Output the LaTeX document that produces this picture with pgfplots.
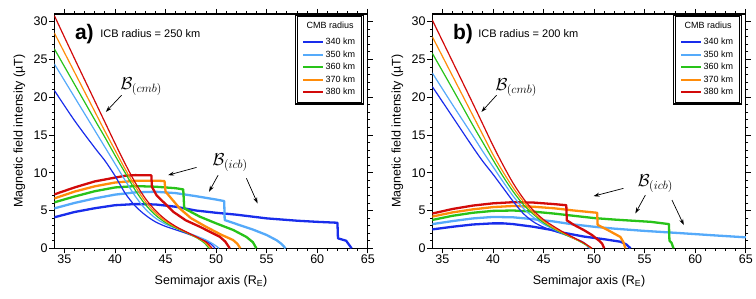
\documentclass[border=0pt]{standalone}
\usepackage{fontspec}
\setmainfont{Liberation Sans}
\usepackage{pgfplots}
\pgfplotsset{compat=1.18}
\usetikzlibrary{arrows.meta}

\definecolor{cblue}{RGB}{25,45,235}
\definecolor{clblue}{RGB}{85,170,250}
\definecolor{cgreen}{RGB}{40,195,25}
\definecolor{corange}{RGB}{255,140,10}
\definecolor{cred}{RGB}{210,10,10}

\tikzset{
  icbline/.style={line width=2.3pt, line join=round},
  cmbline/.style={line width=1.2pt, smooth},
  lab/.style={font=\fontsize{17.28}{20}\selectfont},
  arr/.style={-{Stealth[length=6pt,width=4pt]}, line width=0.7pt, black},
}

\pgfplotsset{
  myaxis/.style={
    scale only axis, width=313.5pt, height=234.3pt,
    xmin=34, xmax=65, ymin=0, ymax=31,
    xtick={35,40,...,65}, ytick={0,5,...,30},
    minor x tick num=4, minor y tick num=4,
    tick align=outside,
    major tick length=5pt, minor tick length=2.5pt,
    axis line style={line width=1.3pt},
    every tick/.style={black, line width=0.8pt},
    tick label style={font=\fontsize{12.5}{14}\selectfont, inner sep=1.5pt},
    /pgf/number format/assume math mode=true,
    xlabel={Semimajor axis (R\textsubscript{E})},
    ylabel={Magnetic field intensity (µT)},
    label style={font=\fontsize{12.5}{14}\selectfont},
    xlabel style={at={(axis description cs:0.5,-0.142)}, anchor=center},
    ylabel style={at={(axis description cs:-0.111,0.5)}, anchor=center},
    legend style={at={(0.986,0.996)}, anchor=north east, draw=none,
      fill=white, font=\fontsize{9}{10}\selectfont, inner xsep=6.5pt, inner ysep=5pt,
      row sep=0pt, nodes={inner sep=1.5pt, text height=7.3pt, text depth=2.3pt}},
    legend cell align=left,
    legend image code/.code={\draw[#1, line width=2pt] (0pt,0pt) -- (20pt,0pt);},
  }
}

\begin{document}
\begin{tikzpicture}
\useasboundingbox (-54.3pt,-50.7pt) rectangle (701.7pt,248.3pt);

% ---------------- panel a ----------------
\begin{axis}[myaxis, at={(0pt,0pt)}, anchor=south west, legend style={name=lega}]
\addlegendimage{empty legend}\addlegendentry[text depth=5.3pt]{\hspace*{-19pt}CMB radius}
\addlegendimage{cblue}\addlegendentry{340 km}
\addlegendimage{clblue}\addlegendentry{350 km}
\addlegendimage{cgreen}\addlegendentry{360 km}
\addlegendimage{corange}\addlegendentry{370 km}
\addlegendimage{cred}\addlegendentry{380 km}

% B_icb (thick)
\addplot[cblue, icbline, forget plot] coordinates {(34,4.1)(36,4.8)(38,5.3)(40,5.7)(42,5.85)(44,5.8)(46,5.5)(48,5.0)(50,4.7)(52,4.45)(55,3.96)(58,3.65)(60,3.5)(62,3.38)(62.05,1.32)(62.86,1.0)(63.4,0)};
\addplot[clblue, icbline, forget plot] coordinates {(34,5.28)(36,6.0)(38,6.6)(40,7.1)(42,7.4)(44,7.48)(46,7.3)(48,6.9)(50,6.45)(50.8,6.25)(50.85,3.74)(52.3,3.08)(53.6,2.5)(55,1.76)(56,1.05)(56.45,0.6)(56.87,0)};
\addplot[cgreen, icbline, forget plot] coordinates {(34,6.08)(36,6.85)(38,7.55)(40,8.05)(42,8.23)(44,8.15)(46,7.95)(46.75,7.79)(46.85,5.28)(48.4,4.18)(50,3.3)(51.7,2.42)(53,1.5)(53.64,0.8)(53.98,0)};
\addplot[corange, icbline, forget plot] coordinates {(34,6.6)(36,7.5)(38,8.2)(40,8.7)(42,8.93)(44,8.95)(44.9,8.9)(45.0,7.5)(46.4,5.28)(47.5,4.0)(49.0,2.85)(50.5,1.8)(51.67,1.1)(52.1,0.6)(52.4,0)};
\addplot[cred, icbline, forget plot] coordinates {(34,7.13)(36,8.05)(38,8.85)(40,9.35)(41,9.6)(42,9.68)(43.6,9.65)(43.65,8.14)(44.1,7.04)(45.75,4.84)(47,3.7)(48.4,2.85)(49.5,2.1)(50.36,1.53)(50.9,0.9)(51.35,0)};

% B_cmb (thin)
\addplot[cblue, cmbline, forget plot] coordinates {(34,20.9)(36,16.9)(38,13.3)(39,11.6)(40,9.6)(41,7.3)(42,5.6)(43,4.4)(44,3.5)(45,2.9)(46,2.45)(47,2.0)(48,1.5)(49,0.95)(49.5,0.55)(49.9,0)};
\addplot[clblue, cmbline, forget plot] coordinates {(34,24.4)(36,20.0)(38,15.6)(39,13.4)(40,11.2)(41,9.0)(42,6.9)(43,5.2)(44,4.0)(45,3.2)(46,2.65)(47,2.15)(48,1.65)(49,1.1)(49.8,0.5)(50.3,0)};
\addplot[cgreen, cmbline, forget plot] coordinates {(34,26.4)(36,21.7)(38,17.0)(39,14.7)(40,12.3)(41,10.0)(42,7.7)(43,5.8)(44,4.4)(45,3.4)(46,2.7)(47,2.1)(48,1.45)(48.8,0.75)(49.3,0)};
\addplot[corange, cmbline, forget plot] coordinates {(34,28.5)(36,23.3)(38,18.1)(39,15.5)(40,13.0)(41,10.5)(42,8.2)(43,6.2)(44,4.7)(45,3.6)(46,2.8)(47,2.15)(48,1.5)(48.9,0.8)(49.45,0)};
\addplot[cred, cmbline, forget plot] coordinates {(34,30.8)(36,25.1)(38,19.5)(39,16.7)(40,13.9)(41,11.2)(42,8.7)(43,6.6)(44,5.0)(45,3.8)(46,2.9)(47,2.2)(48,1.55)(49,0.85)(49.6,0)};

\node[anchor=base west, font=\fontsize{21}{24}\bfseries] at (axis cs:35.7,27.6) {a)};
\node[anchor=base west, font=\fontsize{11}{13}\selectfont] at (axis cs:38.2,27.9) {ICB radius = 250 km};
\node[lab] at (axis cs:42.6,21.4) {$\mathcal{B}_{(cmb)}$};
\draw[arr] (axis cs:40.65,20.25) -- (axis cs:39.1,18.05);
\node[lab] at (axis cs:51.4,11.3) {$\mathcal{B}_{(icb)}$};
\draw[arr] (axis cs:48.06,10.7) -- (axis cs:45.25,9.68);
\draw[arr] (axis cs:50.2,9.68) -- (axis cs:49.3,7.48);
\draw[arr] (axis cs:53.0,9.25) -- (axis cs:54.1,5.94);
\end{axis}
\draw[line width=1.8pt] (lega.south west) rectangle (lega.north east);
\draw[line width=0.5pt] ([shift={(1.8pt,1.8pt)}]lega.south west) rectangle ([shift={(-1.8pt,-1.8pt)}]lega.north east);

% ---------------- panel b ----------------
\begin{axis}[myaxis, at={(378pt,0pt)}, anchor=south west, legend style={name=legb}]
\addlegendimage{empty legend}\addlegendentry[text depth=5.3pt]{\hspace*{-19pt}CMB radius}
\addlegendimage{cblue}\addlegendentry{340 km}
\addlegendimage{clblue}\addlegendentry{350 km}
\addlegendimage{cgreen}\addlegendentry{360 km}
\addlegendimage{corange}\addlegendentry{370 km}
\addlegendimage{cred}\addlegendentry{380 km}

% B_icb (thick)
\addplot[cblue, icbline, forget plot] coordinates {(34,2.5)(36,2.85)(38,3.15)(40,3.3)(41,3.3)(42,3.2)(44,2.85)(45.7,2.45)(47,2.05)(49,1.55)(51,1.2)(52.6,0.87)(53.2,0.5)(53.6,0)};
\addplot[clblue, icbline, forget plot] coordinates {(34,3.2)(36,3.6)(38,3.95)(40,4.15)(42,4.1)(44,3.85)(46,3.55)(48,3.15)(50,2.85)(52,2.6)(55,2.3)(58.6,2.0)(62,1.7)(65,1.45)};
\addplot[cgreen, icbline, forget plot] coordinates {(34,3.75)(36,4.3)(38,4.7)(40,4.95)(42,5.0)(44,4.85)(46,4.6)(48.65,4.2)(50,4.0)(52,3.8)(55.6,3.5)(57.4,3.2)(57.45,1.0)(57.65,0.75)(57.85,0)};
\addplot[corange, icbline, forget plot] coordinates {(34,4.2)(36,4.75)(38,5.15)(40,5.45)(42,5.6)(44,5.5)(46,5.3)(48,5.0)(50.3,4.7)(50.35,3.1)(51.3,2.45)(52.6,1.5)(52.9,0.8)(53.1,0)};
\addplot[cred, icbline, forget plot] coordinates {(34,4.6)(36,5.2)(38,5.65)(40,5.95)(42,6.1)(44,6.05)(46,5.85)(47.25,5.7)(47.3,3.7)(48,3.1)(49,2.4)(49.8,1.75)(50.5,1.0)(50.8,0.6)(51.0,0)};

% B_cmb (thin)
\addplot[cblue, cmbline, forget plot] coordinates {(34,21.4)(36,17.4)(38,13.4)(39,11.5)(40,9.8)(41,8.0)(42,6.2)(43,4.6)(44,3.5)(45,2.8)(46,2.3)(47,1.85)(48,1.35)(49,0.75)(49.5,0)};
\addplot[clblue, cmbline, forget plot] coordinates {(34,23.2)(36,19.0)(38,14.9)(39,12.8)(40,10.8)(41,8.8)(42,6.9)(43,5.3)(44,4.1)(45,3.2)(46,2.5)(47,1.9)(48,1.3)(49,0.7)(49.6,0)};
\addplot[cgreen, cmbline, forget plot] coordinates {(34,25.8)(36,21.1)(38,16.3)(39,14.0)(40,11.7)(41,9.5)(42,7.5)(43,5.8)(44,4.5)(45,3.4)(46,2.6)(47,1.9)(48,1.3)(49,0.6)(49.7,0)};
\addplot[corange, cmbline, forget plot] coordinates {(34,28.0)(36,22.8)(38,17.6)(39,15.0)(40,12.4)(41,10.1)(42,8.0)(43,6.2)(44,4.7)(45,3.6)(46,2.7)(47,2.0)(48,1.3)(49,0.7)(49.7,0)};
\addplot[cred, cmbline, forget plot] coordinates {(34,30.2)(36,24.7)(38,19.2)(39,16.4)(40,13.6)(41,11.0)(42,8.6)(43,6.6)(44,5.0)(45,3.8)(46,2.9)(47,2.1)(48,1.4)(49,0.7)(49.8,0)};

\node[anchor=base west, font=\fontsize{21}{24}\bfseries] at (axis cs:35.7,27.6) {b)};
\node[anchor=base west, font=\fontsize{11}{13}\selectfont] at (axis cs:38.2,27.9) {ICB radius = 200 km};
\node[lab] at (axis cs:42.3,21.3) {$\mathcal{B}_{(cmb)}$};
\draw[arr] (axis cs:40.35,20.25) -- (axis cs:38.86,18.05);
\node[lab] at (axis cs:56.06,8.6) {$\mathcal{B}_{(icb)}$};
\draw[arr] (axis cs:52.9,7.93) -- (axis cs:49.94,6.9);
\draw[arr] (axis cs:55.07,7.04) -- (axis cs:54.08,4.62);
\draw[arr] (axis cs:57.7,6.38) -- (axis cs:58.87,3.08);
\end{axis}
\draw[line width=1.8pt] (legb.south west) rectangle (legb.north east);
\draw[line width=0.5pt] ([shift={(1.8pt,1.8pt)}]legb.south west) rectangle ([shift={(-1.8pt,-1.8pt)}]legb.north east);
\end{tikzpicture}
\end{document}
